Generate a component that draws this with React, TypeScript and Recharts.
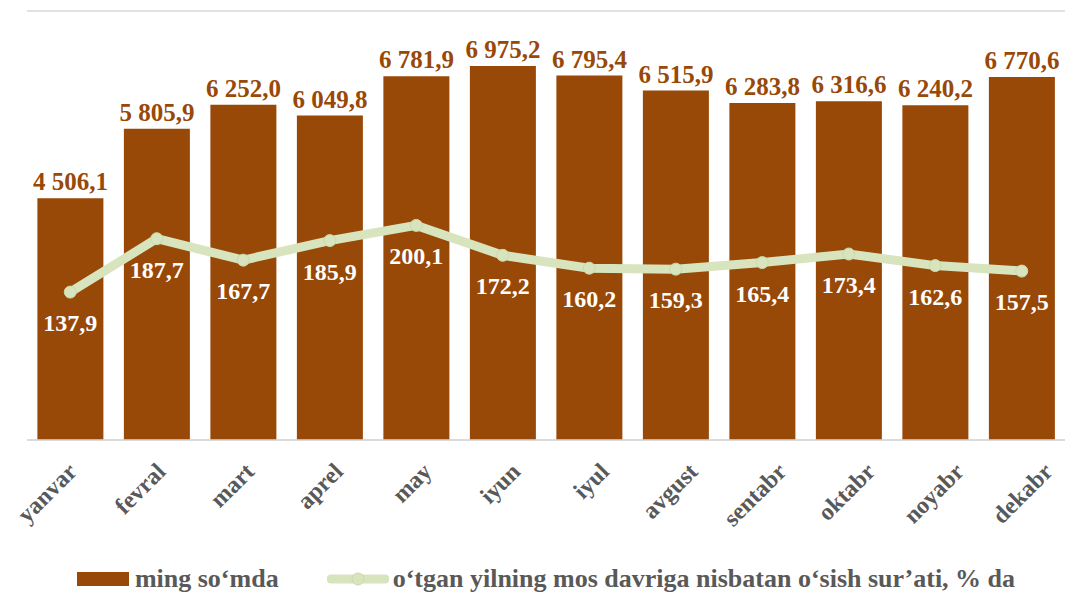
import { ComposedChart, Bar, Line, XAxis, YAxis, CartesianGrid, LabelList, Legend } from "recharts";

const months = ["yanvar", "fevral", "mart", "aprel", "may", "iyun", "iyul", "avgust", "sentabr", "oktabr", "noyabr", "dekabr"];
const amounts = [4506.1, 5805.9, 6252.0, 6049.8, 6781.9, 6975.2, 6795.4, 6515.9, 6283.8, 6316.6, 6240.2, 6770.6];
const growth = [137.9, 187.7, 167.7, 185.9, 200.1, 172.2, 160.2, 159.3, 165.4, 173.4, 162.6, 157.5];
const leftTicks = [0, 1000, 2000, 3000, 4000, 5000, 6000, 7000, 8000];

const barName = "ming so‘mda";
const lineName = "o‘tgan yilning mos davriga nisbatan o‘sish sur’ati, % da";

const BROWN = "#984807";
const GREEN = "#d7e4bd";
const FONT = "Liberation Serif, Times New Roman, DejaVu Serif, serif";

const data = months.map((m, i) => ({ month: m, amount: amounts[i], growth: growth[i] }));

const fmt = (v: number) => {
    const [int, dec] = v.toFixed(1).split(".");
    const withSpace = int.replace(/\B(?=(\d{3})+(?!\d))/g, " ");
    return `${withSpace},${dec}`;
};

// rotated month labels; excel spreads them a touch wider than the bars
function MonthTick({ x, y, payload, index }: any) {
    const ax = x + 8 + index * 2.2;
    const ay = y + 25;
    return (
        <text
            x={ax}
            y={ay}
            transform={`rotate(-45, ${ax}, ${ay})`}
            textAnchor="end"
            fill="#595959"
            style={{ fontFamily: FONT, fontWeight: "bold", fontSize: 24 }}
        >
            {payload.value}
        </text>
    );
}

function ChartLegend() {
    return (
        <div style={{ display: "flex", alignItems: "center", justifyContent: "center", fontFamily: FONT, fontWeight: "bold", fontSize: 26, color: "#595959", lineHeight: "30px" }}>
            <span style={{ display: "inline-block", width: 52, height: 14, background: BROWN, marginRight: 6 }} />
            <span style={{ marginRight: 48 }}>{barName}</span>
            <svg width={62} height={16} style={{ marginRight: 4 }}>
                <line x1={4} y1={8} x2={58} y2={8} stroke={GREEN} strokeWidth={9} strokeLinecap="round" />
                <circle cx={31} cy={8} r={6} fill={GREEN} stroke="#c9dbab" strokeWidth={1} />
            </svg>
            <span>{lineName}</span>
        </div>
    );
}

export default function App() {
    return (
        <div style={{ position: "absolute", left: 0, top: 0, background: "#fff" }}>
            <ComposedChart width={1075} height={594} data={data} margin={{ top: 11, right: 10, left: 27, bottom: 0 }} barCategoryGap="12%">
                <CartesianGrid vertical={false} stroke="#d9d9d9" strokeWidth={1.5} />
                <XAxis dataKey="month" height={124} tick={<MonthTick />} tickLine={false} axisLine={{ stroke: "#d9d9d9", strokeWidth: 1.5 }} interval={0} />
                <YAxis yAxisId="left" domain={[0, 8000]} ticks={leftTicks} hide />
                <YAxis yAxisId="right" orientation="right" domain={[0, 400]} hide />
                <Legend verticalAlign="bottom" height={30} content={<ChartLegend />} />
                <Bar yAxisId="left" dataKey="amount" name={barName} fill={BROWN} isAnimationActive={false}>
                    <LabelList dataKey="amount" position="top" offset={8} formatter={(v: any) => fmt(Number(v))} fill={BROWN} style={{ fontFamily: FONT, fontWeight: "bold", fontSize: 25 }} />
                </Bar>
                <Line yAxisId="right" dataKey="growth" name={lineName} stroke={GREEN} strokeWidth={9} dot={{ r: 6, fill: GREEN, stroke: "#c9dbab", strokeWidth: 1 }} isAnimationActive={false}>
                    <LabelList dataKey="growth" position="bottom" offset={22} formatter={(v: any) => fmt(Number(v))} fill="#ffffff" style={{ fontFamily: FONT, fontWeight: "bold", fontSize: 24 }} />
                </Line>
            </ComposedChart>
        </div>
    );
}
